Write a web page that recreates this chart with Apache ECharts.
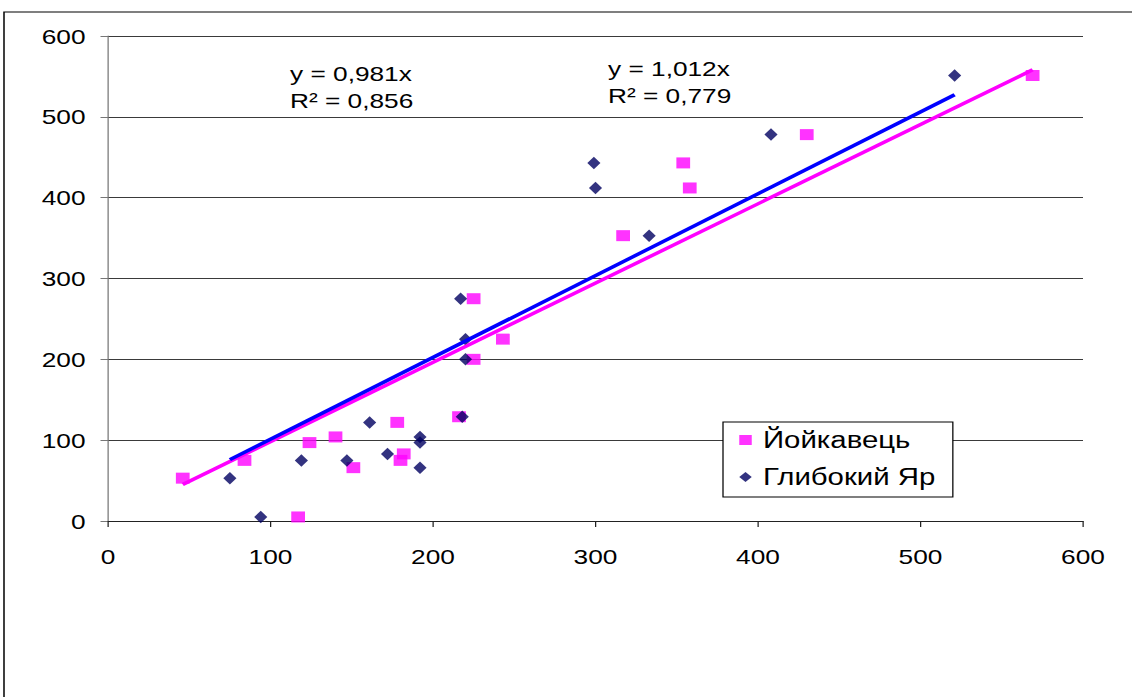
<!DOCTYPE html>
<html>
<head>
<meta charset="utf-8">
<script src="https://cdn.jsdelivr.net/npm/echarts@6/dist/echarts.min.js"></script>
<style>
  html, body { margin: 0; padding: 0; background: #fff; overflow: hidden; }
  #chart { position: absolute; left: 0; top: 0; transform-origin: 0 0; }
</style>
</head>
<body>
<div id="chart"></div>
<script>
// Йойкавець (x, y)
const jojX = [46, 84, 124, 140, 151, 117, 178, 180, 182, 216, 225, 225, 243, 317, 354, 358, 430, 569];
const jojY = [53, 75, 97, 104, 66, 5, 122, 75, 83, 129, 275, 200, 225, 353, 443, 412, 478, 551];
// Глибокий Яр (x, y)
const gyX = [75, 94, 119, 147, 161, 172, 192, 192, 192, 218, 217, 220, 220, 299, 300, 333, 408, 521];
const gyY = [53, 5, 75, 75, 122, 83, 66, 104, 97, 129, 275, 225, 200, 443, 412, 353, 478, 551];

// Linear trends through the origin
const jojSlope = 0.981, jojR2 = '0,856';
const gySlope = 1.012, gyR2 = '0,779';

const seriesNames = ['Йойкавець', 'Глибокий Яр'];
const axisTicks = [0, 100, 200, 300, 400, 500, 600];

// Horizontal stretch of the whole drawing
const S = 1.25;
const W = 1132 / S, H = 697;
const el = document.getElementById('chart');
el.style.width = W + 'px';
el.style.height = H + 'px';
el.style.transform = 'scaleX(' + S + ')';

const pairs = (xs, ys) => xs.map((x, i) => [x, ys[i]]);
const trend = (xs, k) => {
  const lo = Math.min(...xs), hi = Math.max(...xs);
  return [[lo, k * lo], [hi, k * hi]];
};
const fmt = v => v.toFixed(3).replace('.', ',');

const FONT = '"Liberation Sans", Arial, sans-serif';
const chart = echarts.init(el, null, { renderer: 'svg', width: W, height: H });

chart.setOption({
  animation: false,
  backgroundColor: '#fff',
  grid: { left: 108 / S, right: W - 1083 / S, top: 36, bottom: H - 521 },
  xAxis: {
    type: 'value', min: axisTicks[0], max: axisTicks[axisTicks.length - 1], interval: 100,
    axisLine: { show: true, lineStyle: { color: '#222', width: 1 } },
    axisTick: { show: true, length: 6, lineStyle: { color: '#222' } },
    axisLabel: { margin: 25, fontSize: 21, color: '#000', fontFamily: FONT },
    splitLine: { show: false }
  },
  yAxis: {
    type: 'value', min: axisTicks[0], max: axisTicks[axisTicks.length - 1], interval: 100,
    axisLine: { show: true, lineStyle: { color: '#777', width: 1 } },
    axisTick: { show: true, length: 6, lineStyle: { color: '#777' } },
    axisLabel: { margin: 18, fontSize: 21, color: '#000', fontFamily: FONT },
    splitLine: { show: true, lineStyle: { color: '#3a3a3a', width: 1 } }
  },
  legend: {
    data: seriesNames,
    orient: 'vertical',
    left: 723 / S, top: 422,
    padding: [4, 14, 6, 13],
    itemGap: 9,
    itemWidth: 10, itemHeight: 10,
    backgroundColor: '#fff',
    borderColor: '#000', borderWidth: 1,
    textStyle: { fontSize: 23.5, lineHeight: 28, color: '#000', fontFamily: FONT, padding: [0, 0, 0, 4] }
  },
  graphic: [
    { type: 'rect', z: -10, silent: true,
      shape: { x: 4 / S, y: 12, width: 3000, height: 3000 },
      style: { fill: 'none', stroke: '#000', lineWidth: 1.2 } },
    { type: 'text', left: 290 / S, top: 61,
      style: { text: 'y = ' + fmt(jojSlope) + 'x\nR² = ' + jojR2, font: '21px ' + FONT, fill: '#000', lineHeight: 26 } },
    { type: 'text', left: 608 / S, top: 56,
      style: { text: 'y = ' + fmt(gySlope) + 'x\nR² = ' + gyR2, font: '21px ' + FONT, fill: '#000', lineHeight: 26 } }
  ],
  series: [
    { name: seriesNames[0], type: 'scatter', data: pairs(jojX, jojY),
      symbol: 'rect', symbolSize: [11, 11], itemStyle: { color: '#FF00FF' }, z: 2 },
    { name: seriesNames[1], type: 'scatter', data: pairs(gyX, gyY),
      symbol: 'diamond', symbolSize: [10.5, 12.5], itemStyle: { color: '#000060' }, z: 3 },
    { name: 'trend-' + seriesNames[0], type: 'line', data: trend(jojX, jojSlope),
      showSymbol: false, symbol: 'none', lineStyle: { color: '#FF00FF', width: 3.4 }, z: 4 },
    { name: 'trend-' + seriesNames[1], type: 'line', data: trend(gyX, gySlope),
      showSymbol: false, symbol: 'none', lineStyle: { color: '#0000FF', width: 3.4 }, z: 5 }
  ]
});
</script>
</body>
</html>
